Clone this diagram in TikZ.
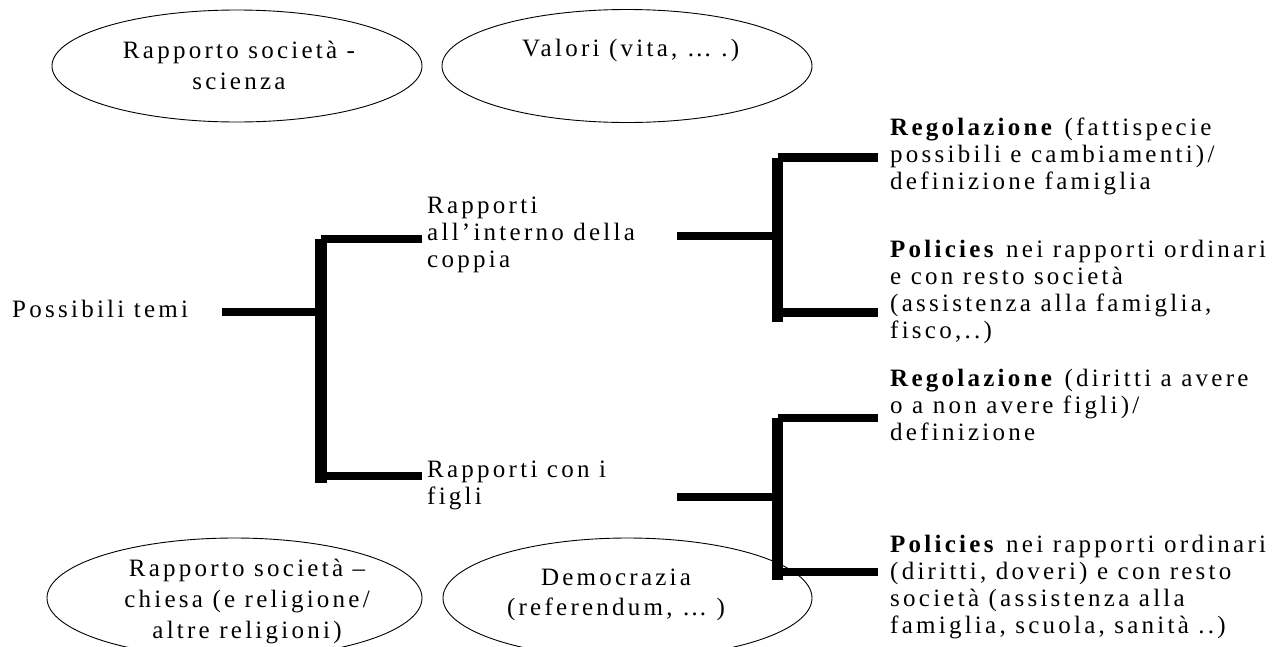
\documentclass[tikz,border=0pt]{standalone}
\usepackage{fontspec}
\setmainfont{Liberation Serif}[LetterSpace=13]
\usetikzlibrary{shapes.geometric}
\begin{document}
\begin{tikzpicture}[x=1pt,y=-1pt,
  oval/.style={draw,ellipse,line width=0.9pt,fill=white,inner sep=0pt},
  body/.style={font=\fontsize{25}{27}\selectfont,align=left,inner sep=0pt,anchor=west},
  otext/.style={font=\fontsize{25}{31}\selectfont,align=center,inner sep=0pt},
  arm/.style={line width=8.3pt},
  spine/.style={line width=11.7pt}]
\useasboundingbox (0,0) rectangle (1288,646);
\clip (0,0) rectangle (1288,646);
% ellipses
\node[oval,minimum width=370pt,minimum height=112pt] (e1) at (237,66) {};
\node[otext] (t1) at (239,65) {Rapporto società -\\scienza};
\node[oval,minimum width=370pt,minimum height=113pt] (e2) at (627,66) {};
\node[otext,anchor=west] (t2) at (522,50.5) {Valori (vita, … .)};
\node[oval,minimum width=375pt,minimum height=120pt] (e3) at (234.5,598) {};
\node[otext] (t3) at (247,601.5) {Rapporto società –\\chiesa (e religione/\\altre religioni)};
\node[oval,minimum width=369pt,minimum height=120pt] (e4) at (627.5,598) {};
\node[otext,font=\fontsize{25}{30}\selectfont] (t4) at (616,594.5) {Democrazia\\(referendum, … )};
% texts
\node[body] (pt) at (12,308.5) {Possibili temi};
\node[body] (r1) at (427,235) {Rapporti\\all’interno della\\coppia};
\node[body] (r2) at (427,485) {Rapporti con i\\figli};
\node[body] (q1) at (890,156.75) {\textbf{Regolazione} (fattispecie\\possibili e cambiamenti)/\\definizione famiglia};
\node[body] (q2) at (890,292.25) {\textbf{Policies} nei rapporti ordinari\\e con resto società\\(assistenza alla famiglia,\\fisco,..)};
\node[body] (q3) at (890,405.25) {\textbf{Regolazione} (diritti a avere\\o a non avere figli)/\\definizione};
\node[body] (q4) at (890,587.25) {\textbf{Policies} nei rapporti ordinari\\(diritti, doveri) e con resto\\società (assistenza alla\\famiglia, scuola, sanità ..)};
% bracket 1
\coordinate (b1s) at (222,312); \coordinate (b1v) at (321,312);
\coordinate (b1vt) at (321,239); \coordinate (b1vb) at (321,483);
\coordinate (b1t) at (422,239); \coordinate (b1b) at (422,476);
\draw[spine] (b1vt) -- (b1vb);
\draw[arm] (b1s) -- (b1v);
\draw[arm] (b1vt) -- (b1t);
\draw[arm] (b1vt |- b1b) -- (b1b);
% bracket 2
\coordinate (b2s) at (677,236); \coordinate (b2v) at (777.5,236);
\coordinate (b2vt) at (777.5,157.5); \coordinate (b2vb) at (777.5,322);
\coordinate (b2t) at (878,157.5); \coordinate (b2b) at (878,312.5);
\draw[spine] (b2vt) -- (b2vb);
\draw[arm] (b2s) -- (b2v);
\draw[arm] (b2vt) -- (b2t);
\draw[arm] (b2vt |- b2b) -- (b2b);
% bracket 3
\coordinate (b3s) at (677,497); \coordinate (b3v) at (777.5,497);
\coordinate (b3vt) at (777.5,418); \coordinate (b3vb) at (777.5,580);
\coordinate (b3t) at (878,418); \coordinate (b3b) at (878,572);
\draw[spine] (b3vt) -- (b3vb);
\draw[arm] (b3s) -- (b3v);
\draw[arm] (b3vt) -- (b3t);
\draw[arm] (b3vt |- b3b) -- (b3b);
\end{tikzpicture}
\end{document}
